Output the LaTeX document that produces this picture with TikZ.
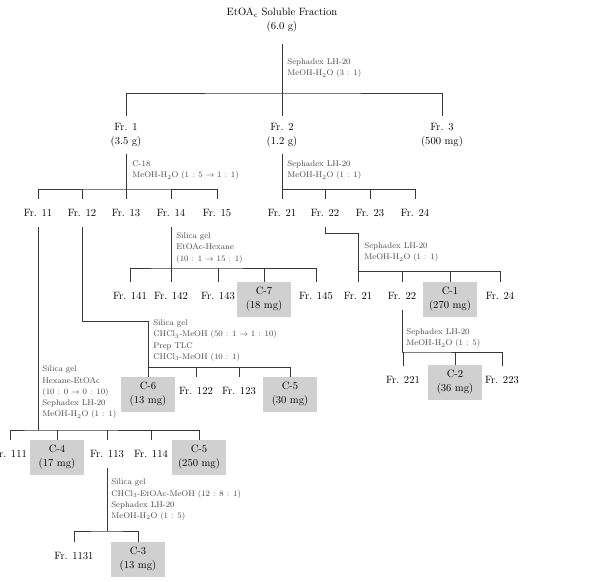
\documentclass[tikz,border=0pt]{standalone}
\usepackage{fontspec}
\definecolor{boxgray}{HTML}{D0D0D0}
\definecolor{linegray}{HTML}{383838}
\definecolor{notegray}{HTML}{484848}

\begin{document}
\begin{tikzpicture}[
  x=1pt, y=-1pt,
  every node/.style={inner sep=0pt, font=\fontsize{10.6}{14}\selectfont},
  fr/.style={align=center, minimum height=27pt},
  frtwo/.style={align=center, minimum height=37pt},
  cbox/.style={align=center, fill=boxgray, minimum width=54pt, minimum height=35pt},
  note/.style={anchor=north west, align=left, text=notegray, font=\fontsize{8.3}{11.3}\selectfont},
  draw=linegray, line width=0.7pt
]
  \useasboundingbox (0,0) rectangle (602,581);

  % Extracto de partida
  \node[frtwo, minimum height=47pt] (top) at (282,20.5) {EtOA$_{\mathrm{c}}$ Soluble Fraction\\(6.0 g)};

  % Primer nivel
  \node[frtwo] (fr1) at (126,135) {Fr. 1\\(3.5 g)};
  \node[frtwo] (fr2) at (282,135) {Fr. 2\\(1.2 g)};
  \node[frtwo] (fr3) at (442,135) {Fr. 3\\(500 mg)};

  % Fracciones de Fr. 1 y Fr. 2
  \node[fr] (fr11) at (38,213) {Fr. 11};
  \node[fr] (fr12) at (82,213) {Fr. 12};
  \node[fr] (fr13) at (126,213) {Fr. 13};
  \node[fr] (fr14) at (171,213) {Fr. 14};
  \node[fr] (fr15) at (217,213) {Fr. 15};
  \node[fr] (fr21) at (282,213) {Fr. 21};
  \node[fr] (fr22) at (325,213) {Fr. 22};
  \node[fr] (fr23) at (370,213) {Fr. 23};
  \node[fr] (fr24) at (415,213) {Fr. 24};

  % Fracciones de Fr. 14
  \node[fr] (fr141) at (130,296) {Fr. 141};
  \node[fr] (fr142) at (171,296) {Fr. 142};
  \node[fr] (fr143) at (218,296) {Fr. 143};
  \node[cbox] (c7) at (264,299.5) {C-7\\(18 mg)};
  \node[fr] (fr145) at (316,296) {Fr. 145};

  % Fracciones de Fr. 22
  \node[fr] (fr21b) at (358,296) {Fr. 21};
  \node[fr] (fr22b) at (402,296) {Fr. 22};
  \node[cbox] (c1) at (450,299.5) {C-1\\(270 mg)};
  \node[fr] (fr24b) at (500,296) {Fr. 24};

  \node[fr] (fr221) at (403,380) {Fr. 221};
  \node[cbox] (c2) at (455,382.5) {C-2\\(36 mg)};
  \node[fr] (fr223) at (502,380) {Fr. 223};

  % Fracciones de Fr. 12
  \node[cbox] (c6) at (148,394.5) {C-6\\(13 mg)};
  \node[fr] (fr122) at (196,391) {Fr. 122};
  \node[fr] (fr123) at (239,391) {Fr. 123};
  \node[cbox] (c5a) at (290,394.5) {C-5\\(30 mg)};

  % Fracciones de Fr. 11
  \node[fr] (fr111) at (10,454) {Fr. 111};
  \node[cbox] (c4) at (57,457.5) {C-4\\(17 mg)};
  \node[fr] (fr113) at (107,454) {Fr. 113};
  \node[fr] (fr114) at (151,454) {Fr. 114};
  \node[cbox] (c5b) at (199,457.5) {C-5\\(250 mg)};

  \node[fr] (fr1131) at (74,556) {Fr. 1131};
  \node[cbox] (c3) at (138,559.5) {C-3\\(13 mg)};

  % Condiciones de separación
  \node[note] (n0) at (287,58.5) {Sephadex LH-20\\MeOH-H$_2$O (3 : 1)};
  \node[note] (n1) at (132,160.5) {C-18\\MeOH-H$_2$O (1 : 5 $\rightarrow$ 1 : 1)};
  \node[note] (n2) at (287,160.5) {Sephadex LH-20\\MeOH-H$_2$O (1 : 1)};
  \node[note] (n14) at (176,232.5) {Silica gel\\EtOAc-Hexane\\(10 : 1 $\rightarrow$ 15 : 1)};
  \node[note] (n22) at (364,242.5) {Sephadex LH-20\\MeOH-H$_2$O (1 : 1)};
  \node[note] (n22b) at (406,328.5) {Sephadex LH-20\\MeOH-H$_2$O (1 : 5)};
  \node[note] (n12) at (153,319.5) {Silica gel\\CHCl$_3$-MeOH (50 : 1 $\rightarrow$ 1 : 10)\\Prep TLC\\CHCl$_3$-MeOH (10 : 1)};
  \node[note] (n11) at (42,365.5) {Silica gel\\Hexane-EtOAc\\(10 : 0 $\rightarrow$ 0 : 10)\\Sephadex LH-20\\MeOH-H$_2$O (1 : 1)};
  \node[note] (n113) at (111,478.5) {Silica gel\\CHCl$_3$-EtOAc-MeOH (12 : 8 : 1)\\Sephadex LH-20\\MeOH-H$_2$O (1 : 5)};

  % Ramas
  \coordinate (b0) at (282,93);
  \draw (top.south) -- (b0);
  \draw (fr1.north) |- (b0) -| (fr3.north);
  \draw (fr2.north) -- (b0);

  \coordinate (b1) at (126,189);
  \draw (fr1.south) -- (b1);
  \draw (fr11.north) |- (b1) -| (fr15.north);
  \foreach \n in {fr12,fr13,fr14} \draw (\n.north) -- (\n.north |- b1);

  \coordinate (b2) at (282,189);
  \draw (fr2.south) -- (b2);
  \draw (fr21.north) |- (b2) -| (fr24.north);
  \foreach \n in {fr22,fr23} \draw (\n.north) -- (\n.north |- b2);

  \coordinate (b14) at (171,268);
  \draw (fr14.south) -- (b14);
  \draw (fr141.north) |- (b14) -| (fr145.north);
  \foreach \n in {fr142,fr143,c7} \draw (\n.north) -- (\n.north |- b14);

  \coordinate (k22) at (358,233);
  \coordinate (b22) at (358,271);
  \draw (fr22.south) |- (k22) -- (b22);
  \draw (fr21b.north) |- (b22) -| (fr24b.north);
  \foreach \n in {fr22b,c1} \draw (\n.north) -- (\n.north |- b22);

  \coordinate (b22b) at (402,352);
  \draw (fr22b.south) -- (b22b);
  \draw (fr221.north) |- (b22b) -| (fr223.north);
  \draw (c2.north) -- (c2.north |- b22b);

  \coordinate (k12) at (148,321);
  \coordinate (b12) at (148,367);
  \draw (fr12.south) |- (k12) -- (b12);
  \draw (c6.north) |- (b12) -| (c5a.north);
  \foreach \n in {fr122,fr123} \draw (\n.north) -- (\n.north |- b12);

  \coordinate (b11) at (38,430);
  \draw (fr11.south) -- (b11);
  \draw (fr111.north) |- (b11) -| (c5b.north);
  \foreach \n in {c4,fr113,fr114} \draw (\n.north) -- (\n.north |- b11);

  \coordinate (b113) at (107,531);
  \draw (fr113.south) -- (b113);
  \draw (fr1131.north) |- (b113) -| (c3.north);
\end{tikzpicture}
\end{document}
